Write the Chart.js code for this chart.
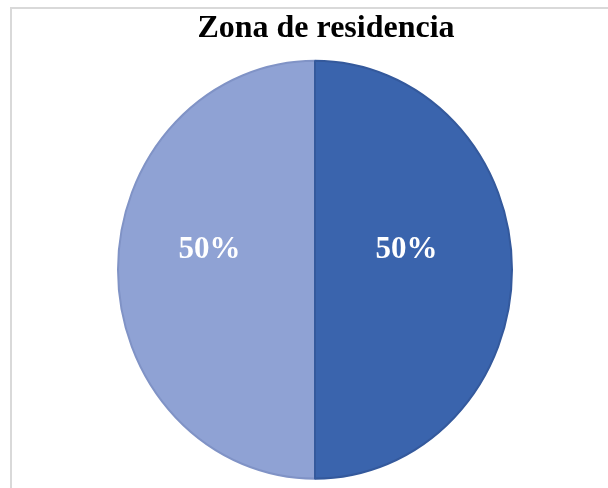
<!DOCTYPE html>
<html lang="es">
<head>
    <meta charset="UTF-8">
    <title>Zona de residencia</title>
    <style>
        body { margin: 0; background: #ffffff; }
        #frame { position: absolute; left: 10px; top: 7px; width: 620px; height: 500px;
                 border-left: 2px solid #d9d9d9; border-top: 2px solid #d9d9d9; }
        #pie-chart { position: absolute; left: 0; top: 0; }
    </style>
</head>
<body>

<div id="frame"></div>
<!--  include chart.js-->
<script src="https://cdn.jsdelivr.net/npm/chart.js@4/dist/chart.umd.min.js"></script>
<canvas id="pie-chart" width="608" height="488"></canvas>

<script>
    // data
    const zonas = ["Rural", "Urbana"];
    const porcentajes = [50, 50];
    const colores = ["#8fa2d4", "#3a64ad"];
    const bordes = ["#8093c6", "#34599c"];

    // the pie is slightly taller than wide and sits a bit left of the title
    const stretchY = 210 / 198;
    const shiftX = -11;

    const ovalPlugin = {
        id: 'oval',
        beforeDatasetsDraw(chart) {
            const arc = chart.getDatasetMeta(0).data[0];
            const ctx = chart.ctx;
            ctx.save();
            ctx.translate(arc.x + shiftX, arc.y);
            ctx.scale(1, stretchY);
            ctx.translate(-arc.x, -arc.y);
        },
        afterDatasetsDraw(chart) {
            const ctx = chart.ctx;
            ctx.restore();
            // percentage labels
            const meta = chart.getDatasetMeta(0);
            ctx.save();
            ctx.font = 'bold 31px "Liberation Serif", "Times New Roman", serif';
            ctx.fillStyle = '#ffffff';
            ctx.textAlign = 'center';
            ctx.textBaseline = 'middle';
            meta.data.forEach((arc, i) => {
                const mid = (arc.startAngle + arc.endAngle) / 2;
                const r = arc.outerRadius * 0.5;
                const x = arc.x + shiftX + Math.cos(mid) * r - 7;
                const y = arc.y - 20;
                ctx.fillText(porcentajes[i] + '%', x, y);
            });
            ctx.restore();
        }
    };

    new Chart(document.getElementById("pie-chart"), {
        type: 'pie',
        data: {
            labels: zonas,
            datasets: [{
                data: porcentajes,
                backgroundColor: colores,
                borderColor: bordes,
                borderWidth: 2,
                // start at 12 o'clock going clockwise: second slice on the right
                rotation: 180
            }]
        },
        options: {
            responsive: false,
            animation: false,
            layout: { padding: { left: 128, right: 84, top: 8, bottom: 20 } },
            plugins: {
                legend: { display: false },
                tooltip: { enabled: false },
                title: {
                    display: true,
                    text: 'Zona de residencia',
                    color: '#000000',
                    font: { family: '"Liberation Serif", "Times New Roman", serif', size: 32, weight: 'bold' },
                    padding: { top: 2, bottom: 23 }
                }
            }
        },
        plugins: [ovalPlugin]
    });
</script>

</body>
</html>
